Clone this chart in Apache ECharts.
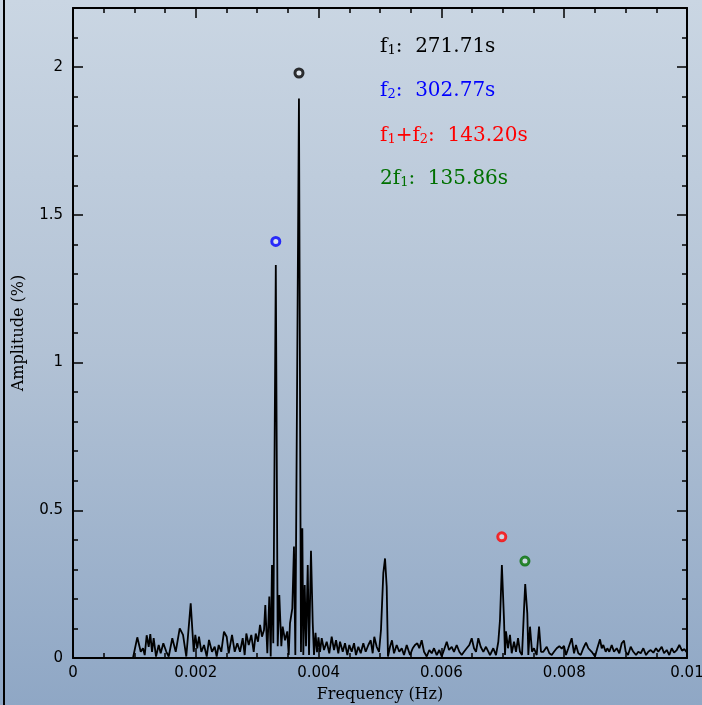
<!DOCTYPE html>
<html>
<head>
<meta charset="utf-8">
<script src="https://cdn.jsdelivr.net/npm/echarts@6/dist/echarts.min.js"></script>
<style>
html,body{margin:0;padding:0;background:#fff;}
#chart{width:702px;height:705px;}
</style>
</head>
<body>
<div id="chart"></div>
<script>
// Frequency (Hz) and amplitude (%) of the periodogram
const freq = [
0.000977,0.001047,0.001103,0.001140,0.001168,0.001200,0.001233,0.001259,0.001287,0.001314,
0.001352,0.001396,0.001428,0.001471,0.001520,0.001559,0.001617,0.001673,0.001738,0.001792,
0.001845,0.001917,0.001966,0.001992,0.002024,0.002052,0.002090,0.002134,0.002178,0.002215,
0.002264,0.002308,0.002340,0.002373,0.002415,0.002459,0.002503,0.002536,0.002590,0.002634,
0.002676,0.002720,0.002764,0.002796,0.002823,0.002862,0.002904,0.002943,0.002976,0.003013,
0.003046,0.003078,0.003111,0.003132,0.003165,0.003197,0.003220,0.003241,0.003262,0.003303,
0.003334,0.003360,0.003393,0.003415,0.003453,0.003490,0.003513,0.003534,0.003572,0.003599,
0.003621,0.003643,0.003680,0.003713,0.003735,0.003751,0.003774,0.003795,0.003823,0.003844,
0.003876,0.003904,0.003925,0.003950,0.003974,0.003998,0.004023,0.004051,0.004088,0.004132,
0.004174,0.004213,0.004251,0.004284,0.004321,0.004349,0.004393,0.004430,0.004468,0.004500,
0.004539,0.004577,0.004609,0.004647,0.004686,0.004728,0.004767,0.004810,0.004849,0.004881,
0.004907,0.004946,0.004984,0.005016,0.005054,0.005082,0.005109,0.005130,0.005163,0.005195,
0.005228,0.005272,0.005314,0.005354,0.005391,0.005435,0.005489,0.005533,0.005570,0.005608,
0.005640,0.005679,0.005717,0.005761,0.005803,0.005842,0.005880,0.005924,0.005966,0.006005,
0.006042,0.006087,0.006124,0.006168,0.006205,0.006249,0.006292,0.006331,0.006368,0.006412,
0.006455,0.006494,0.006531,0.006564,0.006601,0.006640,0.006683,0.006726,0.006792,0.006845,
0.006889,0.006927,0.006954,0.006985,0.007020,0.007036,0.007052,0.007085,0.007117,0.007145,
0.007183,0.007215,0.007248,0.007280,0.007313,0.007345,0.007365,0.007399,0.007416,0.007443,
0.007476,0.007508,0.007552,0.007590,0.007622,0.007660,0.007715,0.007758,0.007797,0.007834,
0.007878,0.007921,0.007960,0.007997,0.008029,0.008067,0.008122,0.008160,0.008192,0.008230,
0.008269,0.008311,0.008355,0.008393,0.008448,0.008502,0.008539,0.008583,0.008611,0.008637,
0.008676,0.008702,0.008735,0.008774,0.008811,0.008855,0.008898,0.008937,0.008974,0.009002,
0.009039,0.009083,0.009126,0.009170,0.009207,0.009246,0.009289,0.009333,0.009370,0.009409,
0.009452,0.009495,0.009533,0.009588,0.009626,0.009670,0.009712,0.009751,0.009789,0.009833,
0.009875,0.009919,0.009959,0.009992
];
const amp = [
0.000,0.070,0.021,0.033,0.010,0.077,0.038,0.081,0.021,0.067,
0.005,0.044,0.016,0.050,0.021,0.005,0.067,0.021,0.100,0.078,
0.005,0.185,0.021,0.078,0.033,0.072,0.021,0.044,0.005,0.061,
0.021,0.038,0.005,0.044,0.021,0.089,0.072,0.016,0.078,0.021,
0.050,0.021,0.067,0.010,0.083,0.044,0.078,0.021,0.083,0.055,
0.112,0.072,0.095,0.179,0.016,0.208,0.005,0.315,0.050,1.330,
0.040,0.213,0.040,0.106,0.060,0.090,0.010,0.117,0.168,0.377,
0.010,0.016,1.894,0.020,0.439,0.010,0.247,0.040,0.315,0.010,
0.363,0.120,0.010,0.085,0.020,0.070,0.021,0.067,0.027,0.055,
0.016,0.072,0.027,0.060,0.016,0.055,0.021,0.050,0.010,0.044,
0.021,0.050,0.010,0.038,0.016,0.050,0.021,0.044,0.060,0.016,
0.072,0.038,0.021,0.095,0.287,0.337,0.241,0.005,0.038,0.060,
0.016,0.044,0.021,0.033,0.010,0.044,0.010,0.033,0.044,0.050,
0.033,0.060,0.021,0.005,0.027,0.016,0.033,0.010,0.027,0.005,
0.027,0.055,0.027,0.038,0.021,0.044,0.021,0.010,0.021,0.033,
0.044,0.067,0.033,0.021,0.067,0.038,0.021,0.038,0.010,0.033,
0.010,0.055,0.128,0.315,0.128,0.010,0.090,0.033,0.078,0.016,
0.055,0.021,0.067,0.021,0.010,0.162,0.250,0.151,0.010,0.106,
0.021,0.033,0.010,0.106,0.021,0.021,0.038,0.016,0.010,0.021,
0.033,0.040,0.032,0.041,0.010,0.033,0.067,0.016,0.044,0.016,
0.010,0.033,0.052,0.033,0.021,0.005,0.033,0.063,0.033,0.044,
0.021,0.033,0.021,0.044,0.021,0.033,0.016,0.050,0.059,0.021,
0.010,0.038,0.021,0.010,0.021,0.016,0.033,0.010,0.021,0.027,
0.018,0.033,0.021,0.038,0.016,0.027,0.010,0.033,0.018,0.027,
0.044,0.025,0.030,0.020
];
// Identified peaks (circle markers)
const peakFreq = [0.0036804, 0.0033028, 0.0069832, 0.0073608];
const peakAmp = [1.98, 1.41, 0.41, 0.328];
const peakColor = ['#000000', '#0000ff', '#ff0000', '#007000'];
// Annotation texts
const peakNames = ['{m|f}{s|1}{m|:  }', '{m|f}{s|2}{m|:  }', '{m|f}{s|1}{m|+f}{s|2}{m|:  }', '{m|2f}{s|1}{m|:  }'];
const peakPeriods = ['271.71s', '302.77s', '143.20s', '135.86s'];
// Axis settings
const xMin = 0, xMax = 0.01, xMajor = 0.002, xMinor = 0.0005;
const yMin = 0, yMax = 2.2, yMajor = 0.5, yMinor = 0.1;

const chart = echarts.init(document.getElementById('chart'), null, {renderer: 'canvas'});

const black = '#000';
function xAx(pos, interval, major, withLabel) {
  return {
    type: 'value', position: pos, min: xMin, max: xMax, interval: interval,
    axisLine: {show: major, onZero: false, lineStyle: {color: black, width: 2}},
    axisTick: {show: true, inside: true, length: major ? 10 : 5, lineStyle: {color: black, width: 1.5}},
    axisLabel: {show: withLabel, margin: 8, color: black, fontSize: 15, fontFamily: 'DejaVu Sans'},
    splitLine: {show: false},
    name: withLabel ? 'Frequency (Hz)' : '',
    nameLocation: 'middle', nameGap: 29,
    nameTextStyle: {color: black, fontSize: 16, fontFamily: 'DejaVu Serif'}
  };
}
function yAx(pos, interval, major, withLabel) {
  return {
    type: 'value', position: pos, min: yMin, max: yMax, interval: interval,
    axisLine: {show: major, onZero: false, lineStyle: {color: black, width: 2}},
    axisTick: {show: true, inside: true, length: major ? 10 : 5, lineStyle: {color: black, width: 1.5}},
    axisLabel: {show: withLabel, margin: 10, color: black, fontSize: 15, fontFamily: 'DejaVu Sans', showMaxLabel: false},
    splitLine: {show: false},
    name: withLabel ? 'Amplitude (%)' : '',
    nameLocation: 'middle', nameGap: 46,
    nameTextStyle: {color: black, fontSize: 16, fontFamily: 'DejaVu Serif'}
  };
}

const graphics = [
  {type: 'rect', left: 3, top: 0, shape: {x: 0, y: 0, width: 2, height: 705}, style: {fill: black}, silent: true}
];
const textTops = [37, 81, 126, 169];
peakNames.forEach(function (nm, i) {
  const c = peakColor[i];
  graphics.push({
    type: 'text', left: 380, top: textTops[i], z: 100,
    style: {
      text: nm + '{m|' + peakPeriods[i] + '}',
      fill: c,
      rich: {
        m: {fill: c, fontSize: 20, fontFamily: 'DejaVu Serif', lineHeight: 20, verticalAlign: 'bottom'},
        s: {fill: c, fontSize: 13, fontFamily: 'DejaVu Serif', lineHeight: 4, verticalAlign: 'bottom'}
      }
    }
  });
});

const option = {
  animation: false,
  backgroundColor: {
    type: 'linear', x: 0, y: 0, x2: 0, y2: 1,
    colorStops: [{offset: 0, color: '#cad6e3'}, {offset: 0.5, color: '#b2c2d5'}, {offset: 1, color: '#8fa7c5'}]
  },
  grid: {left: 73, right: 15, top: 8, bottom: 47, containLabel: false, outerBoundsMode: 'none'},
  xAxis: [xAx('bottom', xMajor, true, true), xAx('bottom', xMinor, false, false), xAx('top', xMajor, true, false), xAx('top', xMinor, false, false)],
  yAxis: [yAx('left', yMajor, true, true), yAx('left', yMinor, false, false), yAx('right', yMajor, true, false), yAx('right', yMinor, false, false)],
  series: [
    {
      type: 'line', xAxisIndex: 0, yAxisIndex: 0,
      data: freq.map(function (f, i) { return [f, amp[i]]; }),
      symbol: 'none', showSymbol: false,
      lineStyle: {color: black, width: 1.8},
      clip: true, z: 2
    },
    {
      type: 'scatter', xAxisIndex: 0, yAxisIndex: 0,
      symbol: 'circle', symbolSize: 8, z: 3,
      data: peakFreq.map(function (f, i) {
        return {value: [f, peakAmp[i]], itemStyle: {color: 'rgba(255,255,255,0.6)', borderColor: peakColor[i], borderWidth: 3}};
      })
    }
  ],
  graphic: graphics
};
chart.setOption(option);
</script>
</body>
</html>
